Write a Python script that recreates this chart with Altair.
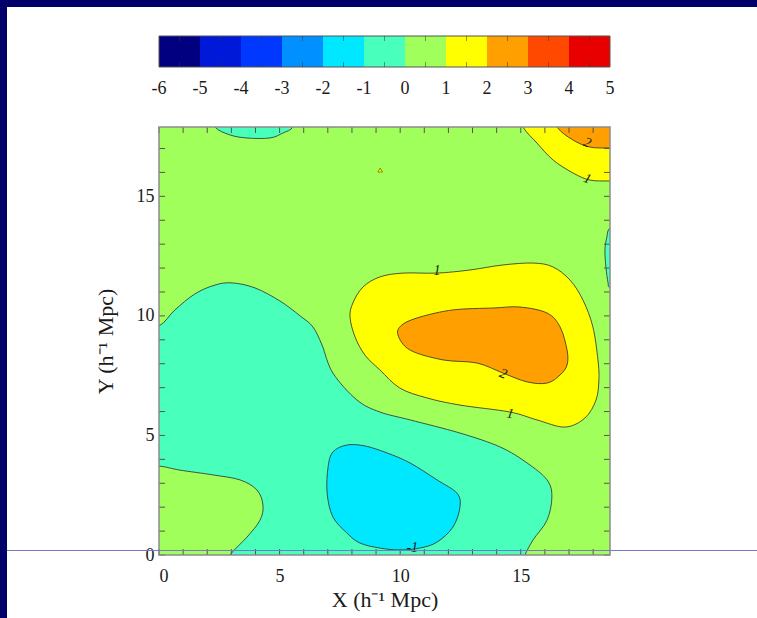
import altair as alt
import pandas as pd

# ---- colour levels: one colour per unit interval between -6 and 5 ----
level_edges = [-6, -5, -4, -3, -2, -1, 0, 1, 2, 3, 4, 5]
level_colors = ["#000080", "#0018d8", "#0038ff", "#0090ff", "#00e8ff", "#48ffbc",
                "#a0ff5a", "#ffff00", "#ffa000", "#ff4800", "#e80000"]

X_MAX = 18.7
Y_MAX = 17.9

# ---- filled contour regions (h^-1 Mpc); points beyond the box are clipped ----
aqua_main_x = [-1.0, 0.0, 0.66, 1.49, 2.32, 3.03, 3.98, 5.02, 5.85, 6.38, 6.76, 7.21,
               8.21, 9.16, 10.41, 12.48, 14.14, 15.26, 16.09, 16.29, 16.09, 15.51,
               15.17, 14.85, -1.0]
aqua_main_y = [9.4, 9.58, 10.25, 10.92, 11.29, 11.38, 11.17, 10.62, 10.0, 9.54, 8.78, 7.61,
               6.48, 5.98, 5.65, 5.10, 4.52, 3.85, 3.14, 2.43, 1.46, 0.63,
               0.0, -0.7, -1.0]

aqua_top_x = [2.32, 2.94, 3.65, 4.60, 5.14, 5.56, 5.9, 2.0]
aqua_top_y = [17.9, 17.57, 17.44, 17.44, 17.65, 17.9, 18.6, 18.6]

aqua_right_x = [18.7, 18.57, 18.49, 18.53, 18.62, 18.7, 19.3, 19.3]
aqua_right_y = [13.68, 13.30, 12.76, 12.05, 11.38, 11.17, 10.9, 13.9]

green_patch_x = [-1.0, 0.0, 0.87, 2.24, 3.36, 4.06, 4.31, 4.19, 3.65, 2.94, 2.6, -1.0]
green_patch_y = [3.72, 3.72, 3.55, 3.35, 3.14, 2.72, 2.09, 1.46, 0.75, 0.0, -0.7, -1.0]

cyan_x = [7.01, 7.21, 7.79, 8.54, 9.45, 10.41, 11.53, 12.35, 12.48, 12.19, 11.53, 10.82,
          9.99, 9.16, 8.33, 7.79, 7.21, 6.97]
cyan_y = [3.68, 4.31, 4.60, 4.56, 4.27, 3.85, 3.14, 2.59, 2.01, 1.17, 0.54, 0.29,
          0.21, 0.29, 0.50, 0.92, 1.59, 2.59]

yellow_mid_x = [8.13, 7.92, 8.04, 8.46, 9.16, 10.12, 11.53, 12.89, 14.26, 15.51, 16.33,
                17.04, 17.58, 17.99, 18.20, 18.24, 18.12, 17.66, 16.83, 15.67, 14.55,
                12.48, 11.11, 9.99, 9.16, 8.54]
yellow_mid_y = [9.12, 9.95, 10.54, 11.21, 11.63, 11.79, 11.79, 11.92, 12.13, 12.21, 12.05,
                11.50, 10.66, 9.54, 8.16, 7.32, 6.48, 5.73, 5.35, 5.65, 5.98,
                6.27, 6.57, 6.98, 7.74, 8.36]

orange_mid_x = [9.91, 10.07, 10.82, 12.19, 13.85, 14.97, 16.09, 16.63, 16.92, 16.92,
                16.63, 16.09, 15.26, 14.26, 13.18, 11.77, 10.41]
orange_mid_y = [9.20, 9.62, 9.95, 10.25, 10.33, 10.37, 10.12, 9.54, 8.57, 7.95,
                7.53, 7.19, 7.24, 7.61, 8.03, 8.16, 8.57]

yellow_corner_x = [15.09, 15.67, 16.34, 17.16, 17.87, 18.7, 19.5, 19.5, 14.7]
yellow_corner_y = [17.9, 17.23, 16.52, 15.98, 15.68, 15.64, 15.6, 18.8, 18.8]

orange_corner_x = [16.50, 17.16, 17.87, 18.7, 19.5, 19.5, 16.1]
orange_corner_y = [17.9, 17.36, 17.06, 17.02, 17.0, 18.8, 18.8]

# (name, level mid-value, drawing pass, xs, ys)
regions = [
    ("aqua_main", -0.5, 1, aqua_main_x, aqua_main_y),
    ("aqua_top", -0.5, 1, aqua_top_x, aqua_top_y),
    ("aqua_right", -0.5, 1, aqua_right_x, aqua_right_y),
    ("yellow_mid", 1.5, 1, yellow_mid_x, yellow_mid_y),
    ("yellow_corner", 1.5, 1, yellow_corner_x, yellow_corner_y),
    ("green_patch", 0.5, 2, green_patch_x, green_patch_y),
    ("cyan_low", -1.5, 2, cyan_x, cyan_y),
    ("orange_mid", 2.5, 2, orange_mid_x, orange_mid_y),
    ("orange_corner", 2.5, 2, orange_corner_x, orange_corner_y),
]

# contour labels
label_x = [11.53, 14.27, 14.56, 17.76, 17.76, 10.50]
label_y = [11.88, 7.57, 5.90, 17.24, 15.73, 0.29]
label_text = ["1", "2", "1", "2", "1", "-1"]
label_angle = [0, 20, 10, 22, 20, 0]

# tiny closed contour near the top
tri_x = [9.17]
tri_y = [16.1]

tick_x = list(range(0, 19))
tick_y = list(range(0, 18))

# ---- tables ----
rows = []
for name, level, layer, xs_, ys_ in regions:
    for i, (a, b) in enumerate(zip(xs_, ys_)):
        rows.append({"region": name, "level": level, "pass": layer, "seq": i, "x": a, "y": b})
poly_df = pd.DataFrame(rows)

bg_df = pd.DataFrame({"x0": [0.0], "x1": [X_MAX], "y0": [0.0], "y1": [Y_MAX], "level": [0.5]})
lab_df = pd.DataFrame({"x": label_x, "y": label_y, "text": label_text, "angle": label_angle})
tri_df = pd.DataFrame({"x": tri_x, "y": tri_y})
tx_df = pd.DataFrame({"t": tick_x})
ty_df = pd.DataFrame({"t": tick_y})
cb_df = pd.DataFrame({"lo": level_edges[:-1], "hi": level_edges[1:]})
cb_df["mid"] = (cb_df["lo"] + cb_df["hi"]) / 2
cb_lab_df = pd.DataFrame({"v": level_edges, "lab": [str(v) for v in level_edges]})
cb_box_df = pd.DataFrame({"lo": [level_edges[0]], "hi": [level_edges[-1]]})
one = pd.DataFrame({"k": [0]})

W, H = 451, 428
FONT = "Liberation Serif"
xs = alt.Scale(domain=[0, X_MAX], nice=False, zero=False)
ys = alt.Scale(domain=[0, Y_MAX], nice=False, zero=False)
cscale = alt.Scale(type="threshold", domain=level_edges[1:-1], range=level_colors)

x_axis = alt.Axis(values=[0, 5, 10, 15], ticks=False, domain=False, grid=False,
                  labelPadding=12, labelFontSize=18, title="X (h⁻¹ Mpc)",
                  titleFontSize=22, titlePadding=4)
y_axis = alt.Axis(values=[0, 5, 10, 15], ticks=False, domain=False, grid=False,
                  labelPadding=5, labelFontSize=18, title="Y (h⁻¹ Mpc)",
                  titleFontSize=22, titlePadding=19)

# ---- colour bar, drawn above the map with its own x scale ----
CB_TOP, CB_BOT = -91, -60
cb_x = alt.Scale(domain=[level_edges[0], level_edges[-1]], nice=False, zero=False)
cb_rects = alt.Chart(cb_df).mark_rect().encode(
    x=alt.X("lo:Q", scale=cb_x, axis=None),
    x2="hi",
    y=alt.value(CB_TOP), y2=alt.value(CB_BOT),
    color=alt.Color("mid:Q", scale=cscale, legend=None),
)
cb_box = alt.Chart(cb_box_df).mark_rect(fill=None, stroke="#555", strokeWidth=1).encode(
    x=alt.X("lo:Q", scale=cb_x, axis=None), x2="hi",
    y=alt.value(CB_TOP), y2=alt.value(CB_BOT))
cb_ticks_top = alt.Chart(cb_df).mark_rule(color="#333", opacity=0.5).encode(
    x=alt.X("mid:Q", scale=cb_x, axis=None), y=alt.value(CB_TOP), y2=alt.value(CB_TOP + 5))
cb_ticks_bot = alt.Chart(cb_df).mark_rule(color="#333", opacity=0.5).encode(
    x=alt.X("mid:Q", scale=cb_x, axis=None), y=alt.value(CB_BOT - 5), y2=alt.value(CB_BOT))
cb_labels = alt.Chart(cb_lab_df).mark_text(font=FONT, fontSize=18, color="#1a1a1a",
                                           baseline="middle").encode(
    x=alt.X("v:Q", scale=cb_x, axis=None), y=alt.value(-38), text="lab:N")
colorbar = alt.layer(cb_rects, cb_box, cb_ticks_top, cb_ticks_bot, cb_labels)

# ---- contour map ----
bg = alt.Chart(bg_df).mark_rect().encode(
    x=alt.X("x0:Q", scale=xs, axis=x_axis),
    x2="x1",
    y=alt.Y("y0:Q", scale=ys, axis=y_axis),
    y2="y1",
    color=alt.Color("level:Q", scale=cscale, legend=None),
)


def fill_pass(k):
    return alt.Chart(poly_df).transform_filter(alt.datum["pass"] == k).mark_line(
        filled=True, interpolate="cardinal-closed", clip=True,
        stroke="#2e2e2e", strokeWidth=0.9, strokeOpacity=0.9,
    ).encode(
        x=alt.X("x:Q", scale=xs, axis=x_axis),
        y=alt.Y("y:Q", scale=ys, axis=y_axis),
        order=alt.Order("seq:Q"),
        detail="region:N",
        color=alt.Color("level:Q", scale=cscale, legend=None),
    )


TL = 6
tick_style = dict(color="#555", strokeWidth=1)
t_bot = alt.Chart(tx_df).mark_rule(**tick_style).encode(
    x=alt.X("t:Q", scale=xs, axis=x_axis), y=alt.value(H), y2=alt.value(H - TL))
t_top = alt.Chart(tx_df).mark_rule(**tick_style).encode(
    x=alt.X("t:Q", scale=xs, axis=x_axis), y=alt.value(0), y2=alt.value(TL))
t_left = alt.Chart(ty_df).mark_rule(**tick_style).encode(
    y=alt.Y("t:Q", scale=ys, axis=y_axis), x=alt.value(0), x2=alt.value(TL))
t_right = alt.Chart(ty_df).mark_rule(**tick_style).encode(
    y=alt.Y("t:Q", scale=ys, axis=y_axis), x=alt.value(W), x2=alt.value(W - TL))

tri = alt.Chart(tri_df).mark_point(shape="triangle-up", size=22, filled=True,
                                   fill="#ffff00", stroke="#8a6a00", strokeWidth=0.8,
                                   opacity=1).encode(
    x=alt.X("x:Q", scale=xs, axis=x_axis), y=alt.Y("y:Q", scale=ys, axis=y_axis))

labels = alt.Chart(lab_df).mark_text(font=FONT, fontSize=14, fontStyle="italic",
                                     color="#1a1a1a", baseline="middle").encode(
    x=alt.X("x:Q", scale=xs, axis=x_axis), y=alt.Y("y:Q", scale=ys, axis=y_axis),
    text="text:N", angle=alt.Angle("angle:Q", scale=None))

# plot box outline
box = alt.Chart(bg_df).mark_rect(fill=None, stroke="#8c8c8c", strokeWidth=1.5).encode(
    x=alt.X("x0:Q", scale=xs, axis=x_axis), x2="x1",
    y=alt.Y("y0:Q", scale=ys, axis=y_axis), y2="y1")

# slide frame around the figure
NAVY = "#000068"
frame_left = alt.Chart(one).mark_rect(color=NAVY).encode(
    x=alt.value(-159), x2=alt.value(-152), y=alt.value(-127), y2=alt.value(491))
frame_top = alt.Chart(one).mark_rect(color=NAVY).encode(
    x=alt.value(-159), x2=alt.value(598), y=alt.value(-127), y2=alt.value(-120))
slide_line = alt.Chart(one).mark_rule(color="#7878c8", strokeWidth=1).encode(
    x=alt.value(-152), x2=alt.value(598), y=alt.value(423.5))

contour_map = alt.layer(
    bg, fill_pass(1), fill_pass(2), t_bot, t_top, t_left, t_right, box, tri, labels,
    frame_left, frame_top, slide_line,
)

chart = alt.layer(colorbar, contour_map).resolve_scale(x="independent").properties(
    width=W, height=H,
    autosize=alt.AutoSizeParams(type="none"),
    padding={"left": 159, "top": 127, "right": 147, "bottom": 63},
    background="white",
).configure_view(stroke=None).configure_axis(
    labelFont=FONT, titleFont=FONT, labelColor="#1a1a1a", titleColor="#1a1a1a",
    titleFontWeight="normal",
)

chart.save("out.html", embed_options={"renderer": "svg", "actions": False})
